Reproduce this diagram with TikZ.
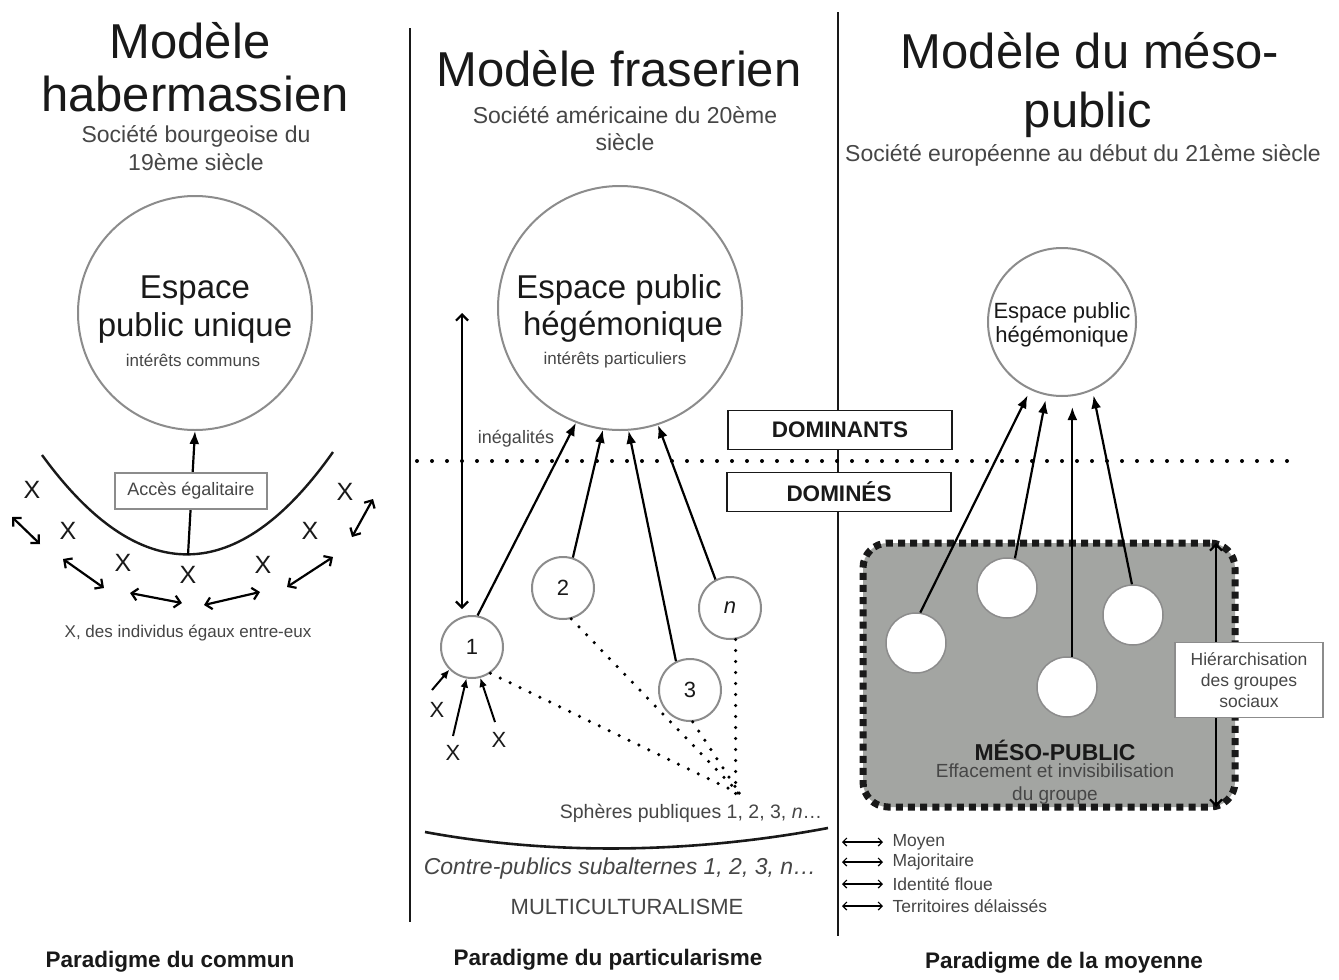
\documentclass[tikz,border=0pt]{standalone}
\usepackage{fontspec}
\setmainfont{Liberation Sans}
\usetikzlibrary{arrows.meta}
\definecolor{ink}{RGB}{25,25,25}
\definecolor{soft}{RGB}{70,70,70}
\definecolor{ring}{RGB}{140,140,140}
\definecolor{meso}{RGB}{163,165,162}
\newcommand{\fsz}[1]{\fontsize{#1}{#1}\selectfont}
\begin{document}
\begin{tikzpicture}[x=1pt,y=-1pt,
  titletext/.style={anchor=base, text=ink, font=\fsz{49}},
  subtext/.style={anchor=base, text=soft, font=\fsz{23}},
  ctext/.style={anchor=base, text=ink, font=\fsz{33}},
  smalltext/.style={text=soft, font=\fsz{17}},
  paradigm/.style={text=ink, font=\bfseries\fsz{22.5}},
  bigring/.style={circle, draw=ring, line width=2pt, inner sep=0pt},
  smallring/.style={circle, draw=ring, line width=2pt, inner sep=0pt, minimum size=62pt, font=\fsz{22}, text=ink},
  whitering/.style={circle, draw=ring, line width=1.5pt, fill=white, inner sep=0pt, minimum size=60pt},
  uparrow/.style={-{Latex[length=13pt,width=10pt]}, line width=2.2pt},
  smallup/.style={-{Latex[length=9pt,width=8pt]}, line width=2pt},
  dblarrow/.style={{Straight Barb[length=6pt,width=12pt]}-{Straight Barb[length=6pt,width=12pt]}, line width=2.2pt},
  thindbl/.style={{Straight Barb[length=4pt,width=8pt]}-{Straight Barb[length=4pt,width=8pt]}, line width=1.2pt},
  divider/.style={line width=2pt, draw=ink},
  dotline/.style={line width=4pt, line cap=round, dash pattern=on 0pt off 15pt},
  finedots/.style={line width=3.5pt, line cap=round, dash pattern=on 0pt off 11pt},
  labelbox/.style={draw=ring, line width=2pt, fill=white, text=soft, font=\fsz{18}, minimum width=152pt, minimum height=36pt, inner sep=0pt},
  dombox/.style={draw=ink, line width=1.5pt, fill=white, font=\bfseries\fsz{22.5}, text=ink, minimum width=224pt, minimum height=39pt, inner sep=0pt},
  xmark/.style={text=ink, font=\fsz{25}},
  xsmall/.style={text=ink, font=\fsz{22}},
  legendtext/.style={anchor=west, text=soft, font=\fsz{17.5}},
]
\useasboundingbox (0,0) rectangle (1339,980);
\fill[white] (0,0) rectangle (1339,980);

% separators
\coordinate (s1t) at (410,28); \coordinate (s1b) at (410,922);
\coordinate (s2t) at (838,12); \coordinate (s2b) at (838,936);
\draw[divider] (s1t) -- (s1b);
\draw[divider] (s2t) -- (s2b);

% dotted boundary
\coordinate (dl) at (417,461); \coordinate (dr) at (1294,461);
\draw[dotline] (dl) -- (dr);
\node[dombox] (dom) at (840,430) {DOMINANTS};
\node[dombox] (domd) at (839,492) {DOMINÉS};

% ===== left panel =====
\node[titletext] (t1a) at (190,58) {Modèle};
\node[titletext] (t1b) at (195,111) {habermassien};
\node[subtext] (st1a) at (196,142) {Société bourgeoise du};
\node[subtext] (st1b) at (196,170) {19ème siècle};

\node[bigring, minimum size=234pt] (cL) at (195,313) {};
\node[ctext] (cLa) at (195,298) {Espace};
\node[ctext] (cLb) at (195,336) {public unique};
\node[smalltext, anchor=base] (cLc) at (193,366) {intérêts communs};

\coordinate (pl) at (42,455); \coordinate (pr) at (333,452); \coordinate (pb) at (188,555);
\draw[line width=2.4pt, draw=ink] (pl) .. controls (139,588) and (237,588) .. (pr);
\draw[uparrow] (pb) -- (cL.south);
\node[labelbox] (acc) at (191,491) {Accès égalitaire};

\node[xmark] (x1) at (32,490) {X};
\node[xmark] (x2) at (68,531) {X};
\node[xmark] (x3) at (123,563) {X};
\node[xmark] (x4) at (188,575) {X};
\node[xmark] (x5) at (263,565) {X};
\node[xmark] (x6) at (310,531) {X};
\node[xmark] (x7) at (345,492) {X};

\coordinate (a1s) at (12,517);  \coordinate (a1e) at (40,544);
\coordinate (a2s) at (63,559);  \coordinate (a2e) at (104,588);
\coordinate (a3s) at (130,593); \coordinate (a3e) at (182,603);
\coordinate (a4s) at (204,605); \coordinate (a4e) at (260,592);
\coordinate (a5s) at (287,587); \coordinate (a5e) at (333,557);
\coordinate (a6s) at (352,537); \coordinate (a6e) at (373,499);
\draw[dblarrow] (a1s) -- (a1e);
\draw[dblarrow] (a2s) -- (a2e);
\draw[dblarrow] (a3s) -- (a3e);
\draw[dblarrow] (a4s) -- (a4e);
\draw[dblarrow] (a5s) -- (a5e);
\draw[dblarrow] (a6s) -- (a6e);

\node[smalltext] (indiv) at (188,633) {X, des individus égaux entre-eux};
\node[paradigm] (p1) at (170,962) {Paradigme du commun};

% ===== middle panel =====
\node[titletext] (t2) at (619,86) {Modèle fraserien};
\node[subtext] (st2a) at (625,123) {Société américaine du 20ème};
\node[subtext] (st2b) at (625,150) {siècle};

\node[bigring, minimum size=244pt] (cM) at (620,308) {};
\node[ctext] (cMa) at (619,298) {Espace public};
\node[ctext] (cMb) at (623,335) {hégémonique};
\node[smalltext, anchor=base] (cMc) at (615,364) {intérêts particuliers};

\coordinate (ia) at (462,313); \coordinate (ib) at (462,609);
\draw[dblarrow] (ia) -- (ib);
\node[smalltext, font=\fsz{18}] (ineg) at (516,439) {inégalités};

\node[smallring] (c1) at (472,647) {1};
\node[smallring] (c2) at (563,588) {2};
\node[smallring] (c3) at (690,690) {3};
\node[smallring] (cn) at (730,608) {\itshape n};

\draw[uparrow] (c1.80) -- (cM.249);
\draw[uparrow] (c2.72) -- (cM.262);
\draw[uparrow] (c3.116) -- (cM.274);
\draw[uparrow] (cn.117) -- (cM.288);

\node[xsmall] (xa) at (437,710) {X};
\node[xsmall] (xb) at (453,753) {X};
\node[xsmall] (xc) at (499,740) {X};
\coordinate (xas) at (432,690);
\coordinate (xbs) at (453,736);
\coordinate (xcs) at (495,722);
\draw[smallup] (xas) -- (c1.225);
\draw[smallup] (xbs) -- (c1.260);
\draw[smallup] (xcs) -- (c1.285);

\coordinate (conv) at (740,794);
\draw[finedots] (c1.-55) -- (conv);
\draw[finedots] (c2.-75) -- (conv);
\draw[finedots] (c3.-85) -- (conv);
\draw[finedots] (cn.-80) -- (cn.-80 |- conv);

\node[smalltext, font=\fsz{19.5}] (sph) at (691,813) {Sphères publiques 1, 2, 3, \textit{n}…};

\coordinate (al) at (425,832); \coordinate (ar) at (828,828);
\draw[line width=2.6pt, draw=ink] (al) .. controls (555,856) and (695,853) .. (ar);

\node[text=soft, font=\itshape\fsz{23}] (contre) at (620,869) {Contre-publics subalternes 1, 2, 3, n…};
\node[text=soft, font=\fsz{22}] (multi) at (627,907) {MULTICULTURALISME};
\node[paradigm] (p2) at (608,960) {Paradigme du particularisme};

% ===== right panel =====
\node[titletext] (t3a) at (1090,68) {Modèle du méso-};
\node[titletext] (t3b) at (1088,127) {public};
\node[subtext] (st3) at (1083,161) {Société européenne au début du 21ème siècle};

\node[bigring, minimum size=148pt] (cR) at (1062,322) {};
\node[anchor=base, text=ink, font=\fsz{22}] (cRa) at (1062,318) {Espace public};
\node[anchor=base, text=ink, font=\fsz{22}] (cRb) at (1062,342) {hégémonique};

\node[draw=ink, fill=meso, line width=7pt, dash pattern=on 7pt off 5.2pt, rounded corners=25pt,
      minimum width=372pt, minimum height=264pt, inner sep=0pt] (mesobox) at (1049,675) {};

\node[whitering] (w1) at (916,643) {};
\node[whitering] (w2) at (1007,588) {};
\node[whitering] (w3) at (1067,687) {};
\node[whitering] (w4) at (1133,615) {};

\draw[uparrow, shorten >=6pt] (w1.82) -- (cR.245);
\draw[uparrow, shorten >=5pt] (w2.75) -- (cR.258);
\draw[uparrow, shorten >=10pt] (w3.80) -- (w3.80 |- cR.south);
\draw[uparrow, shorten >=5pt] (w4.92) -- (cR.294);

\coordinate (ha) at (1216,543); \coordinate (hb) at (1216,807);
\draw[dblarrow] (ha) -- (hb);
\node[draw=ring, line width=1.2pt, fill=white, text=soft, font=\fontsize{17.5}{21}\selectfont,
      align=center, minimum width=148pt, minimum height=75pt, inner sep=0pt] (hier) at (1249,680)
      {Hiérarchisation\\des groupes\\sociaux};

\node[text=ink, font=\bfseries\fsz{23}] (mesot) at (1055,750) {MÉSO-PUBLIC};
\node[text=soft, font=\fontsize{19}{23}\selectfont, align=center] (mesod) at (1055,784)
      {Effacement et invisibilisation\\du groupe};

% legend
\coordinate (l1a) at (842,842); \coordinate (l1b) at (883,842);
\coordinate (l2a) at (842,862); \coordinate (l2b) at (883,862);
\coordinate (l3a) at (842,884); \coordinate (l3b) at (883,884);
\coordinate (l4a) at (842,906); \coordinate (l4b) at (883,906);
\draw[thindbl] (l1a) -- (l1b);
\draw[thindbl] (l2a) -- (l2b);
\draw[thindbl] (l3a) -- (l3b);
\draw[thindbl] (l4a) -- (l4b);
\node[legendtext] (lg1) at (889,842) {Moyen};
\node[legendtext] (lg2) at (889,862) {Majoritaire};
\node[legendtext] (lg3) at (889,884) {Identité floue};
\node[legendtext] (lg4) at (889,906) {Territoires délaissés};

\node[paradigm] (p3) at (1064,963) {Paradigme de la moyenne};
\end{tikzpicture}
\end{document}
